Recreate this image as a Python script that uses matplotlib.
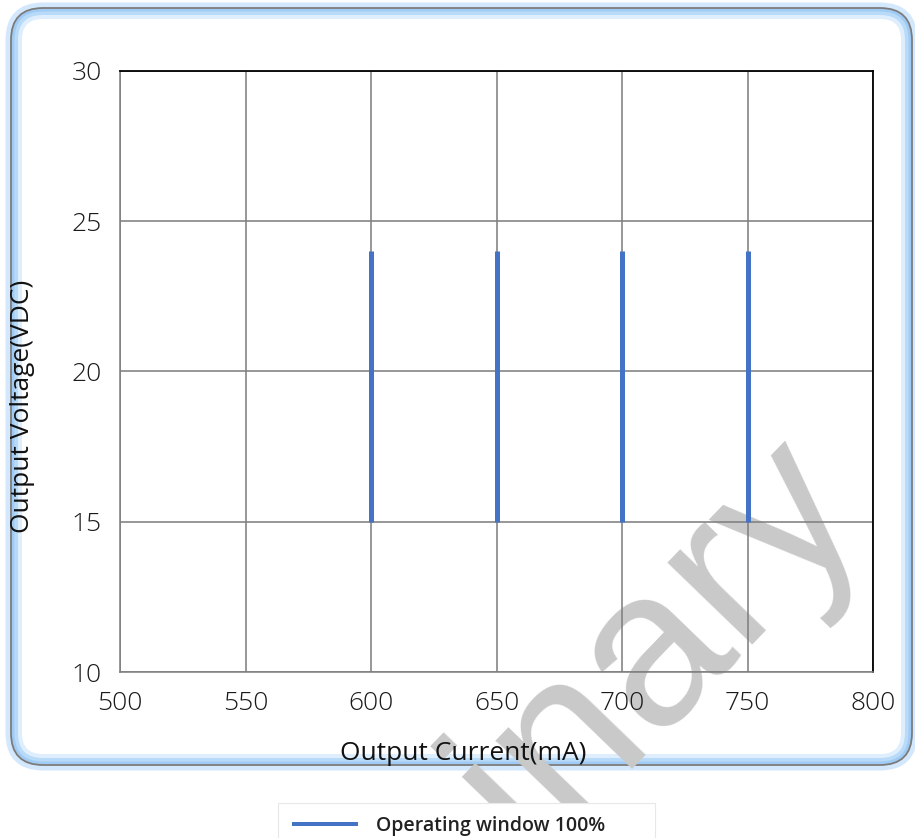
import matplotlib.pyplot as plt
from matplotlib.patches import FancyBboxPatch, Rectangle
from matplotlib.transforms import IdentityTransform

plt.rcParams['font.family'] = ['Open Sans', 'DejaVu Sans']
plt.rcParams['font.weight'] = 300

# operating window data
currents = [600, 650, 700, 750]      # mA
v_min = [15, 15, 15, 15]             # VDC
v_max = [24, 24, 24, 24]             # VDC
series_label = 'Operating window 100%'

x_ticks = [500, 550, 600, 650, 700, 750, 800]
y_ticks = [10, 15, 20, 25, 30]

W, H = 915, 838
fig = plt.figure(figsize=(W / 100, H / 100), dpi=100)
fig.patch.set_facecolor('white')

def px(v):
    # pixels -> points
    return v * 72 / 100

# rounded frame with light blue glow
def frame(inset, lw, color, alpha, z, fill='none'):
    x0, x1 = 11 + inset, 912 - inset
    y0, y1 = H - 765 + inset, H - 8 - inset
    r = 32 - inset
    p = FancyBboxPatch((x0 + r, y0 + r), (x1 - x0) - 2 * r, (y1 - y0) - 2 * r,
                       boxstyle='round,pad=%d' % r, transform=IdentityTransform(),
                       facecolor=fill, edgecolor=color, linewidth=px(lw),
                       alpha=alpha, zorder=z)
    fig.patches.append(p)

frame(-3, 5, '#cfe6fc', 0.9, -3)
frame(0, 0, 'white', 1, -2.95, fill='white')
frame(8, 6, '#dcedfd', 0.9, -2.9)
frame(4, 6, '#b3d8f8', 0.9, -2.8)
frame(1.5, 3, '#9fcbf5', 1, -2.7)
frame(0, 1.8, '#7a7a7a', 1, -2.6)

# watermark
fig.text(866, 330, 'Preliminary', transform=IdentityTransform(),
         fontsize=160, family='Liberation Sans', weight='normal', color='#c9c9c9',
         rotation=46, rotation_mode='anchor', ha='right', va='baseline', zorder=-1)

ax = fig.add_axes([120 / W, 1 - 672 / H, 753 / W, 601 / H])
ax.set_facecolor('none')

for i in range(len(currents)):
    ax.plot([currents[i], currents[i]], [v_min[i], v_max[i]], color='#4472c4',
            linewidth=px(5), solid_capstyle='butt', zorder=3,
            label=series_label if i == 0 else None)

ax.set_xlim(500, 800)
ax.set_ylim(10, 30)
ax.set_xticks(x_ticks)
ax.set_yticks(y_ticks)
ax.grid(True, color='#808080', linewidth=px(1.6), zorder=1)
ax.set_axisbelow(True)
ax.tick_params(length=0, labelsize=19, colors='#1a1a1a', pad=13)
ax.tick_params(axis='x', pad=14)

for side in ['top', 'right']:
    ax.spines[side].set_color('black')
    ax.spines[side].set_linewidth(px(1.8))
for side in ['left', 'bottom']:
    ax.spines[side].set_color('#808080')
    ax.spines[side].set_linewidth(px(1.6))

ax.set_xlabel('Output Current(mA)', fontsize=19, color='#111111')
ax.xaxis.set_label_coords((463 - 120) / 753, -(741 - 672) / 601)
ax.set_ylabel('Output Voltage(VDC)', fontsize=19, color='#111111')
ax.yaxis.set_label_coords(-(120 - 35) / 753, (672 - 406) / 601)

# legend below the frame, with its own wide box
fig.patches.append(Rectangle((278, H - 850), 377, 47, transform=IdentityTransform(),
                             facecolor='white', edgecolor='#e8e8e8', linewidth=0.8,
                             zorder=4))
leg = fig.legend(loc='center left', bbox_to_anchor=(292 / W, 1 - 826 / H),
                 frameon=False, prop={'family': 'Open Sans', 'size': 14, 'weight': 600},
                 handlelength=3.4, handletextpad=0.9, borderpad=0, borderaxespad=0)
leg.set_zorder(5)
for t in leg.get_texts():
    t.set_color('#222222')
for h in leg.get_lines():
    h.set_linewidth(px(4))

fig.savefig('out.png', dpi=100)
